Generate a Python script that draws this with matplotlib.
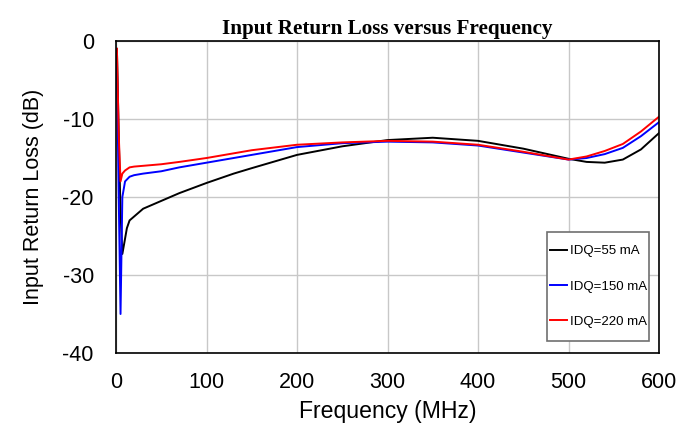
import matplotlib
matplotlib.use("Agg")
import matplotlib.pyplot as plt
from matplotlib.patches import Rectangle

plt.rcParams["axes.unicode_minus"] = False

freq_black = [1, 3, 5, 7, 9, 12, 15, 20, 30, 40, 50, 70, 100, 130, 150, 200, 250, 300, 350, 400, 450, 500, 520, 540, 560, 580, 600]
rl_55 = [-1, -12, -22, -27.3, -26, -24, -23, -22.5, -21.5, -21, -20.5, -19.5, -18.2, -17, -16.3, -14.6, -13.5, -12.7, -12.4, -12.8, -13.8, -15.1, -15.5, -15.6, -15.2, -13.9, -11.8]

freq = [1, 3, 5, 7, 10, 15, 20, 30, 50, 70, 100, 150, 200, 250, 300, 350, 400, 450, 500, 520, 540, 560, 580, 600]
rl_150 = [-3, -20, -35, -20, -18, -17.4, -17.2, -17, -16.7, -16.2, -15.6, -14.6, -13.6, -13.1, -12.9, -13.0, -13.4, -14.3, -15.2, -15.0, -14.5, -13.7, -12.2, -10.4]
rl_220 = [-1, -12, -18, -17, -16.6, -16.2, -16.1, -16, -15.8, -15.5, -15.0, -14.0, -13.3, -13.0, -12.8, -12.9, -13.3, -14.2, -15.2, -14.8, -14.1, -13.2, -11.6, -9.7]

labels = ["IDQ=55 mA", "IDQ=150 mA", "IDQ=220 mA"]
xticks = [0, 100, 200, 300, 400, 500, 600]
yticks = [0, -10, -20, -30, -40]

fig = plt.figure(figsize=(6.93, 4.25), dpi=100)
ax = fig.add_axes([0.1674, 0.1694, 0.7836, 0.7341])
ax.plot(freq_black, rl_55, color="black", lw=1.4, label=labels[0])
ax.plot(freq, rl_150, color="blue", lw=1.4, label=labels[1])
ax.plot(freq, rl_220, color="red", lw=1.4, label=labels[2])

ax.set_xlim(0, 600)
ax.set_ylim(-40, 0)
ax.set_xticks(xticks)
ax.set_yticks(yticks)
ax.grid(True, color="#c8c8c8", lw=1)
ax.set_axisbelow(True)
ax.tick_params(axis="x", length=0, labelsize=15.5, pad=14)
ax.tick_params(axis="y", length=0, labelsize=15.5, pad=16)
for lab in ax.get_xticklabels() + ax.get_yticklabels():
    lab.set_family("Liberation Sans")
for s in ax.spines.values():
    s.set_linewidth(1.2)
ax.set_xlabel("Frequency (MHz)", fontsize=16.6, family="Liberation Sans", labelpad=5)
ax.set_ylabel("Input Return Loss (dB)", fontsize=15.5, family="Liberation Sans", labelpad=13)
ax.set_title("Input Return Loss versus Frequency", fontsize=15.2, family="Liberation Serif",
             fontweight="bold", pad=5)
leg = ax.legend(loc="lower right", bbox_to_anchor=(0.982, 0.072), prop={"family": "Liberation Sans", "size": 9.5},
                labelspacing=1.75, handlelength=1.3, handletextpad=0.2, frameon=False,
                borderpad=0.2, borderaxespad=0)
leg.set_zorder(6)

fig.canvas.draw()
bb = leg.get_window_extent()
inv = ax.transAxes.inverted()
x0, y0 = inv.transform((bb.x0, bb.y0 - 10))
x1, y1 = inv.transform((bb.x1, bb.y1 + 10))
ax.add_patch(Rectangle((x0, y0), x1 - x0, y1 - y0, transform=ax.transAxes,
                       facecolor="white", edgecolor="#707070", lw=1.2, zorder=5, clip_on=False))
fig.savefig("out.png", dpi=100)
